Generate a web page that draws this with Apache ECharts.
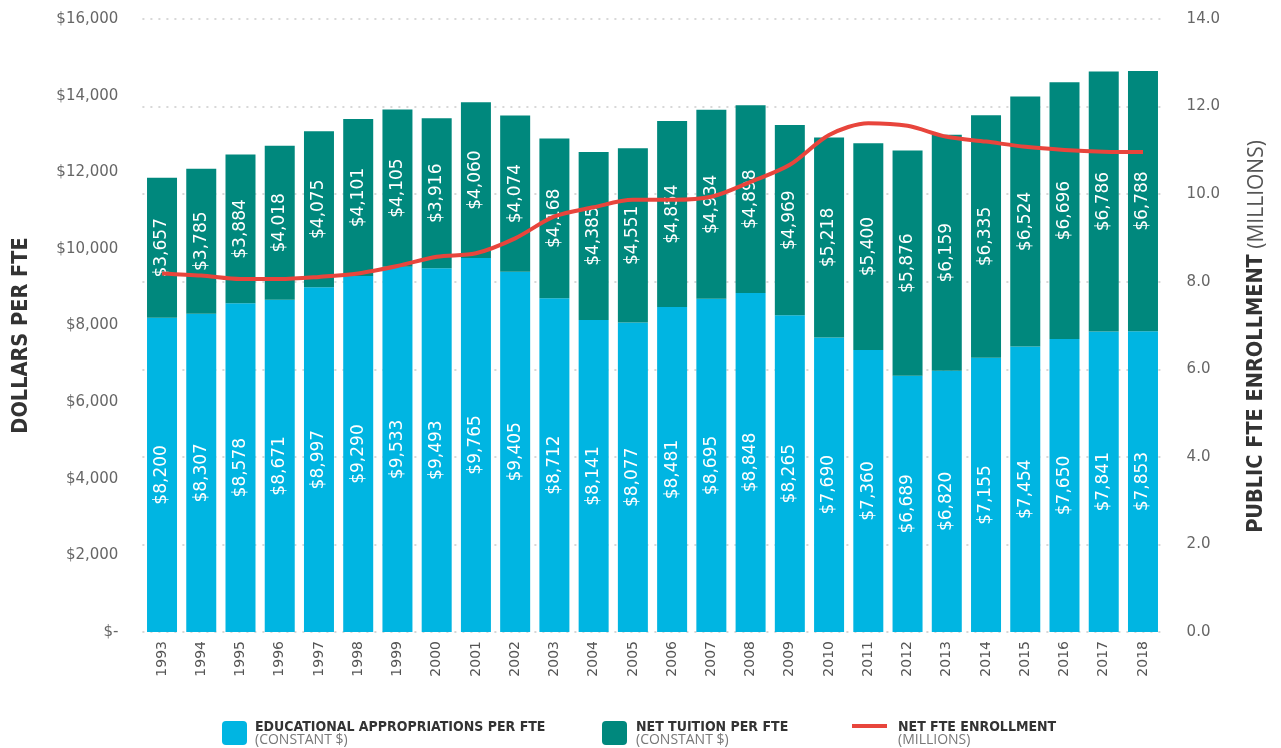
<!DOCTYPE html>
<html>
<head>
<meta charset="utf-8">
<script src="https://cdn.jsdelivr.net/npm/echarts@6/dist/echarts.min.js"></script>
<style>
html,body{margin:0;padding:0;background:#fff;}
#chart{width:1281px;height:748px;}
</style>
</head>
<body>
<div id="chart"></div>
<script>
const years = ['1993','1994','1995','1996','1997','1998','1999','2000','2001','2002','2003','2004','2005','2006','2007','2008','2009','2010','2011','2012','2013','2014','2015','2016','2017','2018'];
const appropriations = [8200,8307,8578,8671,8997,9290,9533,9493,9765,9405,8712,8141,8077,8481,8695,8848,8265,7690,7360,6689,6820,7155,7454,7650,7841,7853];
const tuition = [3657,3785,3884,4018,4075,4101,4105,3916,4060,4074,4168,4385,4551,4854,4934,4898,4969,5218,5400,5876,6159,6335,6524,6696,6786,6788];
const enrollment = [8.19,8.14,8.06,8.06,8.11,8.19,8.36,8.57,8.65,8.99,9.49,9.70,9.87,9.87,9.94,10.28,10.67,11.35,11.62,11.56,11.31,11.20,11.08,11.01,10.97,10.96];
const leftTicks = {min:0, max:16000, interval:2000};
const rightTicks = {min:0, max:14, interval:2};

const BLUE = '#00B5E2', TEAL = '#00887D', RED = '#E8453C';
const fmtMoney = v => '$' + v.toLocaleString('en-US');
const chart = echarts.init(document.getElementById('chart'));
const labelStyle = {show:true, position:'inside', rotate:90, color:'#fff', fontSize:17, fontFamily:'DejaVu Sans', formatter:p => fmtMoney(p.value)};
const legendTitle = {fontFamily:'DejaVu Sans Condensed', fontWeight:'bold', fontSize:14, fill:'#333'};
const legendSub = {fontFamily:'Open Sans', fontSize:14, fill:'#777'};

chart.setOption({
  animation:false,
  grid:{left:142.4, right:118.4, top:19, bottom:116},
  xAxis:{type:'category', data:years, axisLine:{show:false}, axisTick:{show:false},
    axisLabel:{rotate:90, color:'#555', fontSize:14, fontFamily:'DejaVu Sans', margin:9}},
  yAxis:[
    {type:'value', min:leftTicks.min, max:leftTicks.max, interval:leftTicks.interval, position:'left',
     splitLine:{show:false}, axisLine:{show:false}, axisTick:{show:false},
     axisLabel:{color:'#666', fontSize:15, fontFamily:'DejaVu Sans', margin:24, formatter:v => v === 0 ? '$-' : fmtMoney(v)},
     name:'DOLLARS PER FTE', nameLocation:'middle', nameRotate:90, nameGap:110,
     nameTextStyle:{fontFamily:'DejaVu Sans Condensed', fontWeight:'bold', fontSize:21.5, color:'#333', padding:[0,20,0,0]}},
    {type:'value', min:rightTicks.min, max:rightTicks.max, interval:rightTicks.interval, position:'right',
     splitLine:{show:true, lineStyle:{type:[2,6], color:'#d8d8d8', width:2}}, axisLine:{show:false}, axisTick:{show:false},
     axisLabel:{color:'#666', fontSize:15, fontFamily:'DejaVu Sans', margin:24, formatter:v => v.toFixed(1)},
     name:'{b|PUBLIC FTE ENROLLMENT}{l|\u00a0(MILLIONS)}', nameLocation:'middle', nameRotate:90, nameGap:92,
     nameTextStyle:{padding:[0,22,0,0], verticalAlign:'middle', rich:{
       b:{fontFamily:'DejaVu Sans Condensed', fontWeight:'bold', fontSize:21.5, color:'#333', verticalAlign:'bottom', lineHeight:26},
       l:{fontFamily:'Open Sans', fontSize:21, color:'#555', verticalAlign:'bottom', lineHeight:26}}}}
  ],
  series:[
    {name:'EDUCATIONAL APPROPRIATIONS PER FTE', type:'bar', stack:'s', data:appropriations, barWidth:30,
     itemStyle:{color:BLUE}, label:labelStyle},
    {name:'NET TUITION PER FTE', type:'bar', stack:'s', data:tuition, barWidth:30,
     itemStyle:{color:TEAL}, label:labelStyle},
    {name:'NET FTE ENROLLMENT', type:'line', yAxisIndex:1, data:enrollment, smooth:0.3, symbol:'none',
     lineStyle:{color:RED, width:4}, z:5}
  ],
  graphic:[
    {type:'rect', left:222, top:721, shape:{width:25, height:24, r:4}, style:{fill:BLUE}},
    {type:'text', left:255, top:720, style:Object.assign({text:'EDUCATIONAL APPROPRIATIONS PER FTE'}, legendTitle)},
    {type:'text', left:255, top:733, style:Object.assign({text:'(CONSTANT $)'}, legendSub)},
    {type:'rect', left:602, top:721, shape:{width:25, height:24, r:4}, style:{fill:TEAL}},
    {type:'text', left:636, top:720, style:Object.assign({text:'NET TUITION PER FTE'}, legendTitle)},
    {type:'text', left:636, top:733, style:Object.assign({text:'(CONSTANT $)'}, legendSub)},
    {type:'rect', left:852, top:724, shape:{width:35, height:4}, style:{fill:RED}},
    {type:'text', left:898, top:720, style:Object.assign({text:'NET FTE ENROLLMENT'}, legendTitle)},
    {type:'text', left:898, top:733, style:Object.assign({text:'(MILLIONS)'}, legendSub)}
  ]
});
</script>
</body>
</html>
